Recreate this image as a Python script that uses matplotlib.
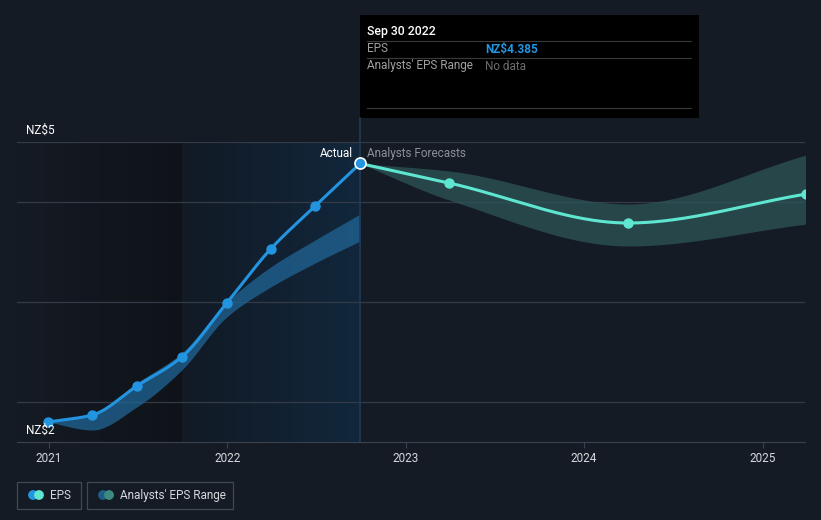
import matplotlib
matplotlib.use("Agg")
import matplotlib.pyplot as plt
import matplotlib.dates as mdates
from matplotlib.colors import LinearSegmentedColormap
from matplotlib.patches import Rectangle, Circle
import numpy as np
import pandas as pd

plt.rcParams['font.family'] = ['Roboto', 'DejaVu Sans']

# ---- data ----
eps_dates = ['2020-12-31', '2021-03-31', '2021-06-30', '2021-09-30',
             '2021-12-31', '2022-03-31', '2022-06-30', '2022-09-30']
eps_vals = [1.80, 1.87, 2.16, 2.45, 2.99, 3.53, 3.96, 4.385]

past_range_low = [1.80, 1.72, 1.95, 2.32, 2.85, 3.15, 3.39, 3.61]
past_range_high = [1.80, 1.87, 2.19, 2.49, 3.00, 3.35, 3.62, 3.88]

fc_dates = ['2022-09-30', '2023-03-31', '2024-03-31', '2025-03-31']
fc_vals = [4.385, 4.19, 3.79, 4.08]
fc_low = [4.385, 4.02, 3.56, 3.78]
fc_high = [4.385, 4.31, 3.98, 4.47]

year_ticks = ['2021', '2022', '2023', '2024', '2025']

BG = '#151b24'
BLUE = '#2394df'
TEAL = '#5ee6d0'


def pchip(x, y, xs):
    # monotone cubic hermite (Fritsch-Carlson)
    x = np.asarray(x, float); y = np.asarray(y, float)
    h = np.diff(x); d = np.diff(y) / h
    m = np.zeros_like(y)
    m[0] = d[0]; m[-1] = d[-1]
    for k in range(1, len(y) - 1):
        if d[k - 1] * d[k] <= 0:
            m[k] = 0
        else:
            w1 = 2 * h[k] + h[k - 1]; w2 = h[k] + 2 * h[k - 1]
            m[k] = (w1 + w2) / (w1 / d[k - 1] + w2 / d[k])
    idx = np.clip(np.searchsorted(x, xs) - 1, 0, len(h) - 1)
    t = (xs - x[idx]) / h[idx]
    h00 = 2 * t**3 - 3 * t**2 + 1
    h10 = t**3 - 2 * t**2 + t
    h01 = -2 * t**3 + 3 * t**2
    h11 = t**3 - t**2
    return h00 * y[idx] + h10 * h[idx] * m[idx] + h01 * y[idx + 1] + h11 * h[idx] * m[idx + 1]


ex = mdates.date2num(pd.to_datetime(eps_dates))
fx = mdates.date2num(pd.to_datetime(fc_dates))

fig = plt.figure(figsize=(8.21, 5.2), dpi=100, facecolor=BG)
ax = fig.add_axes([17 / 821, 1 - 442 / 520, 788 / 821, 300 / 520])
ax.set_facecolor(BG)

x0 = mdates.date2num(pd.Timestamp('2020-10-28'))
x1 = mdates.date2num(pd.Timestamp('2025-03-28'))
ymin, ymax = 1.6, 4.6

# shaded past regions
split = mdates.date2num(pd.Timestamp('2021-09-30'))
cm1 = LinearSegmentedColormap.from_list('a', [BG, '#0f1319'])
cm2 = LinearSegmentedColormap.from_list('b', ['#111a25', '#12273c'])
grad = np.linspace(0, 1, 256).reshape(1, -1)
ax.imshow(grad, cmap=cm1, extent=[x0, split, ymin, ymax], aspect='auto', zorder=0)
ax.imshow(grad, cmap=cm2, extent=[split, ex[-1], ymin, ymax], aspect='auto', zorder=0)
ax.set_xlim(x0, x1)
ax.set_ylim(ymin, ymax)

for g in [2, 3, 4, 4.6]:
    ax.axhline(g, color='#343b46', lw=0.9, zorder=1)

# bands
xs = np.linspace(ex[0], ex[-1], 300)
ax.fill_between(xs, pchip(ex, past_range_low, xs), pchip(ex, past_range_high, xs),
                color='#2065 96'.replace(' ', ''), alpha=0.75, lw=0, zorder=2)
xf = np.linspace(fx[0], fx[-1], 300)
ax.fill_between(xf, pchip(fx, fc_low, xf), pchip(fx, fc_high, xf),
                color='#2c5558', alpha=0.75, lw=0, zorder=2)

# lines
ax.plot(xs, pchip(ex, eps_vals, xs), color=BLUE, lw=2.2, zorder=4, solid_capstyle='round')
ax.plot(ex[:-1], eps_vals[:-1], 'o', color=BLUE, ms=6.5, zorder=5)
ax.plot(xf, pchip(fx, fc_vals, xf), color=TEAL, lw=2.2, zorder=4, solid_capstyle='round')
ax.plot(fx[1:], fc_vals[1:], 'o', color=TEAL, ms=6.5, zorder=5, clip_on=True)
ax.plot(ex[-1], eps_vals[-1], 'o', color=BLUE, ms=8, mec='white', mew=1.2, zorder=6)

# divider line
ax.axvline(ex[-1], color='#1f3a55', lw=1.2, zorder=3)
fig.add_artist(plt.Line2D([360 / 821, 360 / 821], [1 - 142 / 520, 1 - 118 / 520],
                          color='#1f3a55', lw=1.2))

ax.text(ex[-1] - 14, 4.48, 'Actual', color='white', fontsize=8.5, ha='right', va='center', zorder=7)
ax.text(ex[-1] + 14, 4.48, 'Analysts Forecasts', color='#8b9099', fontsize=8.5, ha='left',
        va='center', zorder=7)

# axes styling
for s in ['top', 'right', 'left']:
    ax.spines[s].set_visible(False)
ax.spines['bottom'].set_color('#3b424d')
ax.set_yticks([])
ax.set_xticks(mdates.date2num(pd.to_datetime(year_ticks)))
ax.set_xticklabels(year_ticks)
ax.tick_params(axis='x', colors='#3b424d', length=4, labelcolor='#d5d8dd', labelsize=8.5, pad=3)

fig.text(26 / 821, 1 - 130 / 520, 'NZ$5', color='white', fontsize=8.5, va='center')
fig.text(26 / 821, 1 - 430 / 520, 'NZ$2', color='white', fontsize=8.5, va='center')

# tooltip
fig.add_artist(Rectangle((360 / 821, 1 - 118 / 520), 339 / 821, 103 / 520,
                         transform=fig.transFigure, facecolor='black', edgecolor='none'))
for yy in [41, 58, 108]:
    fig.add_artist(plt.Line2D([367 / 821, 691 / 821], [1 - yy / 520] * 2, color='#3a3a3a', lw=0.8))
fig.text(367 / 821, 1 - 31 / 520, 'Sep 30 2022', color='white', fontsize=8.8, va='center',
         fontweight='medium')
fig.text(367 / 821, 1 - 49 / 520, 'EPS', color='#a0a0a0', fontsize=8.5, va='center')
fig.text(485 / 821, 1 - 49 / 520, 'NZ$4.385', color=BLUE, fontsize=8.5, va='center',
         fontweight='bold')
fig.text(367 / 821, 1 - 66 / 520, "Analysts' EPS Range", color='#a0a0a0', fontsize=8.5, va='center')
fig.text(485 / 821, 1 - 66 / 520, 'No data', color='#6c6c6c', fontsize=8.5, va='center')


# legend
def legend_box(xl, w, c1, c2, label):
    fig.add_artist(Rectangle((xl / 821, 1 - 509 / 520), w / 821, 27 / 520,
                             transform=fig.transFigure, facecolor='none',
                             edgecolor='#414853', lw=0.9))
    ax_icon = fig.add_axes([(xl + 10) / 821, 1 - 500 / 520, 20 / 821, 10 / 520])
    ax_icon.set_xlim(0, 20); ax_icon.set_ylim(0, 10); ax_icon.axis('off')
    ax_icon.add_patch(Circle((6, 5), 4.2, color=c1))
    ax_icon.add_patch(Circle((12, 5), 4.2, color=c2))
    ax_icon.set_aspect('equal')
    fig.text((xl + 33) / 821, 1 - 495.5 / 520, label, color='#d5d8dd', fontsize=8.5, va='center')


legend_box(17, 64, BLUE, TEAL, 'EPS')
legend_box(87, 146, '#1f5d87', '#3d8a80', "Analysts' EPS Range")

fig.savefig('out.png', dpi=100, facecolor=BG)
